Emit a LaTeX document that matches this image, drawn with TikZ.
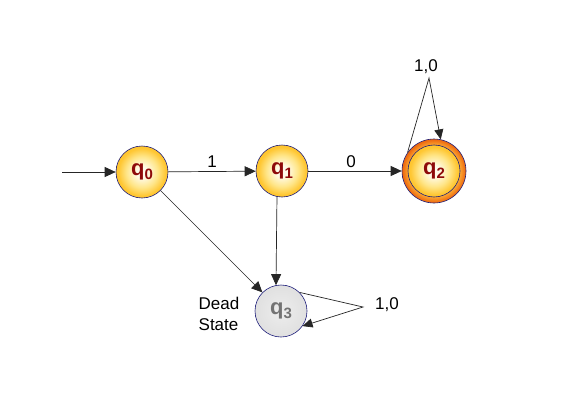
\documentclass[tikz,border=0pt]{standalone}
\usepackage{fontspec}
\setmainfont{Liberation Sans}
\usetikzlibrary{arrows.meta}
\definecolor{navy}{HTML}{1E1E7A}
\definecolor{qred}{HTML}{8E0A0A}
\definecolor{yc}{HTML}{FFFBEA}
\definecolor{ym}{HTML}{FFE68A}
\definecolor{ye}{HTML}{FFC630}
\definecolor{oc}{HTML}{FFB83C}
\definecolor{oe}{HTML}{EE6A10}
\definecolor{gc}{HTML}{EDEDED}
\definecolor{ge}{HTML}{E0E0E0}
\pgfdeclareradialshading{ballY}{\pgfpoint{0bp}{0bp}}{color(0bp)=(yc); color(5bp)=(yc); color(15bp)=(ym); color(23bp)=(ye); color(25bp)=(ye); color(50bp)=(ye)}
\pgfdeclareradialshading{ringO}{\pgfpoint{0bp}{0bp}}{color(0bp)=(oc); color(19bp)=(oc); color(24.5bp)=(oe); color(50bp)=(oe)}
\pgfdeclareradialshading{ballG}{\pgfpoint{0bp}{0bp}}{color(0bp)=(gc); color(25bp)=(ge); color(50bp)=(ge)}
\tikzset{
  state/.style={circle, draw=navy, line width=0.6pt, minimum size=52pt, inner sep=0pt, shading=ballY,
    font=\fontsize{22}{22}\selectfont\bfseries, text=qred},
  deadstate/.style={state, shading=ballG, text=black!55},
  edge/.style={draw=black!85, line width=0.7pt, -{Triangle[length=11pt,width=10pt]}},
  loopedge/.style={draw=black!85, line width=0.7pt, -{Triangle[length=10pt,width=9pt]}},
  lbl/.style={font=\fontsize{17}{20}\selectfont, text=black}
}
\newcommand{\qname}[1]{q\raisebox{-0.3ex}{\fontsize{15}{15}\selectfont\bfseries #1}}
\begin{document}
\begin{tikzpicture}[x=1pt,y=-1pt]
\path[use as bounding box, fill=white] (0,0) rectangle (585,412);
\coordinate (start) at (62,172);
\node[state] (q0) at (142,172) {\qname{0}};
\node[state] (q1) at (282,171) {\qname{1}};
\node[circle, draw=navy, line width=0.6pt, minimum size=64pt, inner sep=0pt, shading=ringO] (q2) at (434,171) {};
\node[state] (q2i) at (434,171) {\qname{2}};
\node[deadstate] (q3) at (281,311) {\qname{3}};
\coordinate (a2) at (429,78);
\coordinate (a3) at (363,307);
\draw[edge] (start) -- (q0);
\draw[edge] (q0) -- node[lbl, above=0pt] {1} (q1);
\draw[edge] (q1) -- node[lbl, above=0pt, xshift=-4pt] {0} (q2);
\draw[edge] (q0) -- (q3);
\draw[edge] (q1.259) -- (q3.101);
\draw[loopedge] (q2.145) -- (a2) -- (q2.78);
\draw[loopedge] (q3.45) -- (a3) -- (q3.-35);
\node[lbl] (l2) at (426,67) {1,0};
\node[lbl] (l3) at (387,305) {1,0};
\node[lbl, align=left, font=\fontsize{17}{21}\selectfont] (dead) at (219,314) {Dead\\State};
\end{tikzpicture}
\end{document}
